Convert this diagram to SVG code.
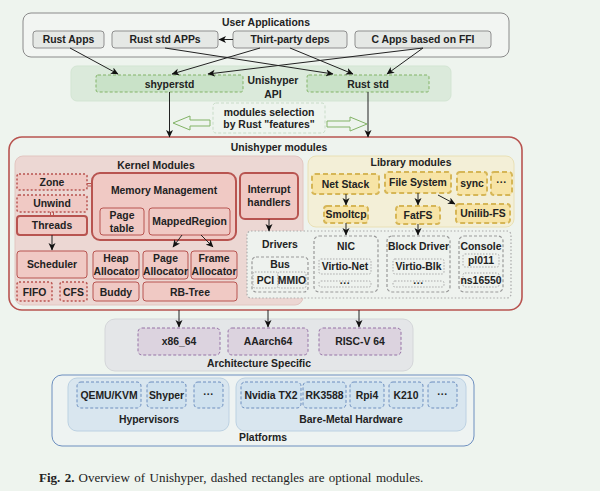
<svg xmlns="http://www.w3.org/2000/svg" width="600" height="491" viewBox="0 0 600 491">
<defs>
<marker id="ah" markerWidth="8" markerHeight="8" refX="7" refY="4" orient="auto" markerUnits="userSpaceOnUse"><path d="M0,0.5 L7.5,4 L0,7.5 L2,4 Z" fill="#111"/></marker>
<style>
text{font-family:"Liberation Sans",Arial,sans-serif;font-weight:bold;font-size:10.4px;fill:#222;text-anchor:middle}
.app{fill:#e5e8e5;stroke:#8f8f8f;stroke-width:1}
.api{fill:#c9e2c8;stroke:#82b366;stroke-dasharray:3 2}
.kn{fill:#f0c9c4;stroke:#b85450;stroke-width:1}
.knb{fill:#f0c9c4;stroke:#b85450;stroke-width:2}
.knd{fill:#f0c9c4;stroke:#b85450;stroke-width:1.5;stroke-dasharray:2 2}
.lib{fill:#f7e4a6;stroke:#d6b656;stroke-width:2;stroke-dasharray:5 3}
.drv{fill:#eef2ee;stroke:#999;stroke-width:1.2;stroke-dasharray:3 2}
.drd{fill:#eef2ee;stroke:#aaa;stroke-width:1;stroke-dasharray:1.5 1.5}
.arch{fill:#dcd3df;stroke:#9673a6;stroke-dasharray:3 2}
.plt{fill:#cfe1ee;stroke:#6c8ebf;stroke-dasharray:3 2}
.edge{stroke:#222;stroke-width:1;fill:none;marker-end:url(#ah)}
</style>
</defs>
<rect width="600" height="491" fill="#eef4ee"/>

<g id="user-applications">
<rect x="23" y="13" width="486" height="44" rx="8" fill="#f2f5f2" stroke="#8a8a8a"/>
<text x="266" y="26">User Applications</text>
</g>
<g id="rust-apps"><rect class="app" x="33" y="31" width="71" height="17" rx="3"/><text x="68.5" y="43">Rust Apps</text></g>
<g id="rust-std-apps"><rect class="app" x="112" y="31" width="106" height="17" rx="3"/><text x="165" y="43">Rust std APPs</text></g>
<g id="third-party"><rect class="app" x="233" y="31" width="114" height="17" rx="3"/><text x="290" y="43">Thirt-party deps</text></g>
<g id="c-apps"><rect class="app" x="355" y="31" width="136" height="17" rx="3"/><text x="423" y="43">C Apps based on FFI</text></g>

<g id="unishyper-api">
<rect x="71" y="66" width="380" height="35" rx="6" fill="#dbeadb" stroke="#d3e5d3"/>
<text x="273" y="83.5">Unishyper</text>
<text x="273" y="97.5">API</text>
</g>
<g id="shyperstd"><rect class="api" x="96" y="75" width="147" height="17" rx="2"/><text x="169.5" y="87.5">shyperstd</text></g>
<g id="rust-std"><rect class="api" x="307" y="75" width="122" height="17" rx="2"/><text x="368" y="87.5">Rust std</text></g>

<g id="modules-selection">
<rect x="213" y="103" width="112" height="30" rx="3" fill="#eef4ee" stroke="#c8dcc8" stroke-dasharray="3 2"/>
<text x="269" y="115.5">modules selection</text>
<text x="269" y="128">by Rust "features"</text>
<polygon points="173,123 190,116 190,120 210,120 210,126 190,126 190,130" fill="#eef4ee" stroke="#82b366"/>
<polygon points="367,124 350,117 350,121 327,121 327,127 350,127 350,131" fill="#eef4ee" stroke="#82b366"/>
</g>

<g id="unishyper-modules">
<rect x="9" y="137" width="513" height="173" rx="13" fill="#eef3ee" stroke="#b85450" stroke-width="1.6"/>
<text x="279" y="151">Unishyper modules</text>
</g>

<g id="kernel-modules">
<rect x="15" y="156" width="288" height="149" rx="8" fill="#ecd7d3" stroke="#e2c6c1"/>
<text x="156" y="169">Kernel Modules</text>
</g>
<g id="library-modules">
<rect x="308" y="156" width="206" height="71" rx="8" fill="#f3efd7" stroke="#e9e0b5"/>
<text x="411" y="166">Library modules</text>
</g>

<g id="zone"><rect class="knd" x="17" y="174" width="70" height="16" rx="2"/><text x="52" y="185.8">Zone</text></g>
<g id="unwind"><rect class="knd" x="17" y="195" width="70" height="17" rx="2"/><text x="52" y="207.3">Unwind</text></g>
<g id="threads"><rect class="knb" x="17" y="216" width="70" height="19" rx="3"/><text x="52" y="229.3">Threads</text></g>
<g id="memory-management"><rect class="knb" x="92" y="173" width="144" height="67" rx="8"/><text x="164" y="194">Memory Management</text></g>
<g id="page-table"><rect class="kn" x="100" y="208" width="44" height="27" rx="3"/><text x="122" y="219">Page</text><text x="122" y="232">table</text></g>
<g id="mapped-region"><rect class="kn" x="149" y="208" width="81" height="27" rx="3"/><text x="189.5" y="225.3">MappedRegion</text></g>
<g id="interrupt-handlers"><rect class="knb" x="240" y="173" width="58" height="46" rx="5"/><text x="269" y="193">Interrupt</text><text x="269" y="206">handlers</text></g>
<g id="scheduler"><rect class="kn" x="17" y="251" width="70" height="27" rx="3"/><text x="52" y="268.3">Scheduler</text></g>
<g id="fifo"><rect class="knd" x="17" y="282" width="35" height="19" rx="2"/><text x="34.5" y="295.5">FIFO</text></g>
<g id="cfs"><rect class="knd" x="60" y="282" width="27" height="19" rx="2"/><text x="73.5" y="295.5">CFS</text></g>
<g id="heap-allocator"><rect class="kn" x="93" y="251" width="46" height="28" rx="3"/><text x="116" y="262">Heap</text><text x="116" y="275">Allocator</text></g>
<g id="page-allocator"><rect class="kn" x="143" y="251" width="45" height="28" rx="3"/><text x="165.5" y="262">Page</text><text x="165.5" y="275">Allocator</text></g>
<g id="frame-allocator"><rect class="kn" x="191" y="251" width="46" height="28" rx="3"/><text x="214" y="262">Frame</text><text x="214" y="275">Allocator</text></g>
<g id="buddy"><rect class="kn" x="93" y="282" width="46" height="19" rx="3"/><text x="116" y="295.5">Buddy</text></g>
<g id="rb-tree"><rect class="kn" x="143" y="282" width="94" height="19" rx="3"/><text x="190" y="295.5">RB-Tree</text></g>

<g id="net-stack"><rect class="lib" x="312" y="174" width="67" height="20" rx="3"/><text x="345.5" y="187.5">Net Stack</text></g>
<g id="file-system"><rect class="lib" x="385" y="172" width="66" height="21" rx="3"/><text x="418" y="186">File System</text></g>
<g id="sync"><rect class="lib" x="457" y="172" width="30" height="23" rx="3"/><text x="472" y="187">sync</text></g>
<g id="lib-more"><rect class="lib" x="491" y="172" width="21" height="23" rx="3"/><text x="501.5" y="186">···</text></g>
<g id="smoltcp"><rect class="lib" x="324" y="206" width="44" height="17" rx="3"/><text x="346" y="218.3">Smoltcp</text></g>
<g id="fatfs"><rect class="lib" x="396" y="206" width="44" height="18" rx="3"/><text x="418" y="218.8">FatFS</text></g>
<g id="unilib-fs"><rect class="lib" x="456" y="204" width="54" height="19" rx="3"/><text x="483" y="217.3">Unilib-FS</text></g>

<g id="drivers">
<rect x="247" y="231" width="264" height="67" rx="4" fill="#eef2ee" stroke="#aaa" stroke-width="1.2" stroke-dasharray="1.5 2"/>
<text x="280" y="247.5">Drivers</text>
</g>
<g id="bus"><rect class="drv" x="252" y="257" width="56" height="35" rx="4"/><text x="280" y="268">Bus</text></g>
<g id="pci"><rect class="drd" x="253" y="272" width="25" height="16" rx="2"/><text x="265.5" y="283.5">PCI</text></g>
<g id="mmio"><rect class="drd" x="278" y="272" width="28" height="16" rx="2"/><text x="292" y="283.5">MMIO</text></g>
<g id="nic"><rect class="drv" x="314" y="236" width="64" height="56" rx="5"/><text x="346" y="249.5">NIC</text></g>
<g id="virtio-net"><rect class="drd" x="319" y="259" width="52" height="15" rx="2"/><text x="345" y="270.3">Virtio-Net</text></g>
<g id="nic-more"><rect class="drd" x="319" y="281" width="52" height="6" rx="2"/><text x="345" y="287">···</text></g>
<g id="block-driver"><rect class="drv" x="387" y="236" width="63" height="56" rx="5"/><text x="418.5" y="249.5">Block Driver</text></g>
<g id="virtio-blk"><rect class="drd" x="393" y="259" width="51" height="15" rx="2"/><text x="418.5" y="270.3">Virtio-Blk</text></g>
<g id="blk-more"><rect class="drd" x="393" y="281" width="51" height="6" rx="2"/><text x="418.5" y="287">···</text></g>
<g id="console"><rect class="drv" x="459" y="236" width="44" height="56" rx="5"/><text x="481" y="249.5">Console</text></g>
<g id="pl011"><rect class="drd" x="463" y="254" width="36" height="13" rx="2"/><text x="481" y="264.3">pl011</text></g>
<g id="ns16550"><rect class="drd" x="463" y="273" width="36" height="14" rx="2"/><text x="481" y="283.8">ns16550</text></g>

<g id="architecture-specific">
<rect x="105" y="319" width="308" height="52" rx="10" fill="#e4e6e8" stroke="#d4d6d9"/>
<text x="259" y="367">Architecture Specific</text>
</g>
<g id="x86-64"><rect class="arch" x="138" y="328" width="82" height="27" rx="4"/><text x="179" y="345.3">x86_64</text></g>
<g id="aarch64"><rect class="arch" x="228" y="328" width="80" height="27" rx="4"/><text x="268" y="345.3">AAarch64</text></g>
<g id="riscv64"><rect class="arch" x="319" y="328" width="82" height="27" rx="4"/><text x="360" y="345.3">RISC-V 64</text></g>

<g id="platforms">
<rect x="52" y="375" width="422" height="71" rx="10" fill="#eef3f2" stroke="#6c8ebf"/>
<text x="263" y="441">Platforms</text>
</g>
<g id="hypervisors">
<rect x="68" y="378" width="161" height="53" rx="9" fill="#d9e6ef" stroke="#bcd1e2"/>
<text x="149" y="422.5">Hypervisors</text>
</g>
<g id="qemu-kvm"><rect class="plt" x="77" y="382" width="64" height="26" rx="4"/><text x="109" y="398.8">QEMU/KVM</text></g>
<g id="shyper"><rect class="plt" x="147" y="382" width="39" height="26" rx="4"/><text x="166.5" y="398.8">Shyper</text></g>
<g id="hyp-more"><rect class="plt" x="194" y="382" width="29" height="26" rx="4"/><text x="208.5" y="397.5">···</text></g>
<g id="bare-metal">
<rect x="236" y="378" width="230" height="53" rx="9" fill="#d9e6ef" stroke="#bcd1e2"/>
<text x="351" y="422.5">Bare-Metal Hardware</text>
</g>
<g id="nvidia-tx2"><rect class="plt" x="241" y="382" width="60" height="26" rx="4"/><text x="271" y="398.8">Nvidia TX2</text></g>
<g id="rk3588"><rect class="plt" x="303" y="382" width="43" height="26" rx="4"/><text x="324.5" y="398.8">RK3588</text></g>
<g id="rpi4"><rect class="plt" x="350" y="382" width="34" height="26" rx="4"/><text x="367" y="398.8">Rpi4</text></g>
<g id="k210"><rect class="plt" x="389" y="382" width="34" height="26" rx="4"/><text x="406" y="398.8">K210</text></g>
<g id="hw-more"><rect class="plt" x="428" y="382" width="29" height="26" rx="4"/><text x="442.5" y="397.5">···</text></g>

<g id="connectors">
<path class="edge" d="M233,39.5 L219,39.5"/>
<path class="edge" d="M70,48 L118,74"/>
<path class="edge" d="M165,48 L333,74"/>
<path class="edge" d="M260,48 L172,74"/>
<path class="edge" d="M290,48 L353,74"/>
<path class="edge" d="M423,48 L208,74"/>
<path class="edge" d="M423,48 L387,74"/>
<path class="edge" d="M169.5,92 L169.5,137"/>
<path class="edge" d="M368,92 L368,137"/>
<path d="M87,183.5 L92,183.5 M87,186 L92,186 M50.5,212 L50.5,216 M53.5,212 L53.5,216" stroke="#b85450" stroke-width="1"/>
<path class="edge" d="M52,235 L52,250"/>
<path class="edge" d="M182,235 L173,247"/>
<path class="edge" d="M201,235 L213,247"/>
<path class="edge" d="M269,219 L269,231"/>
<path class="edge" d="M346,194 L346,205"/>
<path class="edge" d="M418,193 L418,205"/>
<path class="edge" d="M438,195 L455,204"/>
<path class="edge" d="M346,223 L346,235"/>
<path class="edge" d="M418,224 L418,235"/>
<path class="edge" d="M179,310 L179,327"/>
<path class="edge" d="M268,310 L268,327"/>
<path class="edge" d="M359,310 L359,327"/>
</g>

<text x="39" y="482" style="font-family:'Liberation Serif','Times New Roman',serif;font-size:13px;font-weight:normal;text-anchor:start;fill:#222;word-spacing:1.2px"><tspan font-weight="bold">Fig. 2.</tspan><tspan dx="4">Overview of Unishyper, dashed rectangles are optional modules.</tspan></text>
</svg>
